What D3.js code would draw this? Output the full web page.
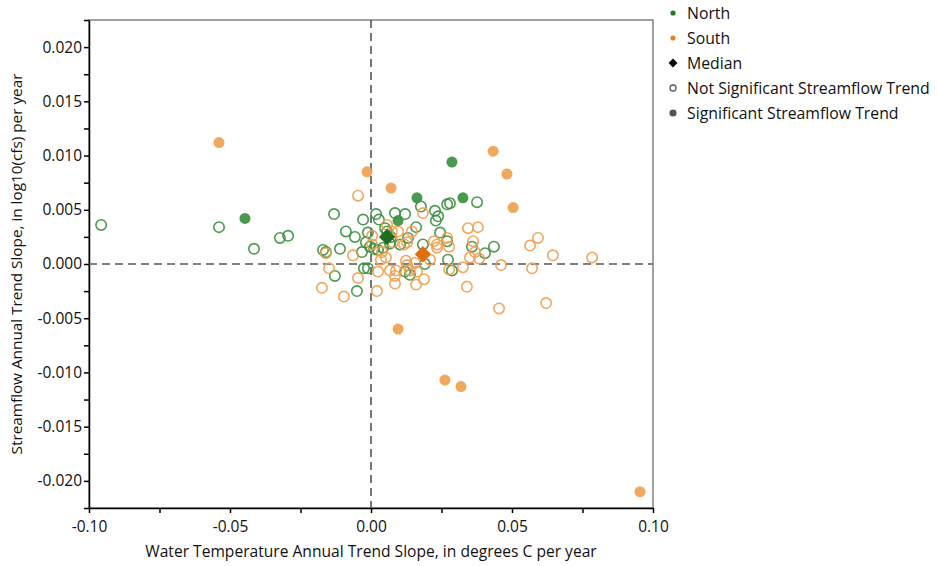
<!DOCTYPE html>
<html>
<head>
<meta charset="utf-8">
<script src="https://cdn.jsdelivr.net/npm/d3@7"></script>
<style>
  body { margin: 0; background: #fff; }
  text { font-family: "Open Sans", "Noto Sans", sans-serif; fill: #111; }
</style>
</head>
<body>
<div id="svg-container"></div>
<script>
// [x, y] pairs: water temp slope (deg C / yr), streamflow slope (log10 cfs / yr)
let northOpen = [
  [-0.0957, 0.0036], [-0.0539, 0.0034], [-0.0415, 0.0014], [-0.0323, 0.0024], [-0.0294, 0.0026],
  [-0.0170, 0.0013], [-0.0160, 0.0011], [-0.0131, 0.0046], [-0.0110, 0.0014], [-0.0128, -0.0011],
  [-0.0089, 0.0030], [-0.0057, 0.0025], [-0.0050, -0.0025], [-0.0032, 0.0011], [-0.0028, 0.0041],
  [-0.0025, -0.0004], [-0.0011, -0.0004], [-0.0018, 0.0020], [-0.0011, 0.0029], [0.0011, 0.0014],
  [0.0018, 0.0046], [0.0028, 0.0041], [0.0025, 0.0013], [0.0043, 0.0015], [0.0050, 0.0033],
  [0.0067, 0.0019], [0.0085, 0.0047], [0.0103, 0.0018], [0.0121, 0.0046], [0.0131, 0.0024],
  [0.0160, 0.0034], [0.0177, 0.0053], [0.0227, 0.0049], [0.0238, 0.0044], [0.0230, 0.0040],
  [0.0270, 0.0055], [0.0280, 0.0056], [0.0376, 0.0057], [0.0245, 0.0029], [0.0270, 0.0021],
  [0.0184, 0.0018], [0.0191, 0.0000], [0.0273, 0.0004], [0.0287, -0.0006], [0.0358, 0.0016],
  [0.0404, 0.0010], [0.0436, 0.0016], [0.0121, -0.0007], [0.0138, -0.0010], [0.0057, 0.0030],
  [0.0071, 0.0025], [-0.0004, 0.0016]
];
let northSig = [
  [-0.0447, 0.0042], [0.0287, 0.0094], [0.0163, 0.0061], [0.0326, 0.0061], [0.0096, 0.0040]
];
let southOpen = [
  [-0.0046, 0.0063], [-0.0160, 0.0010], [-0.0149, -0.0004], [-0.0174, -0.0022], [-0.0096, -0.0030],
  [-0.0064, 0.0008], [-0.0046, -0.0013], [0.0004, 0.0018], [0.0004, 0.0026], [0.0021, -0.0025],
  [0.0025, -0.0007], [0.0035, 0.0004], [0.0053, 0.0006], [0.0057, 0.0036], [0.0074, 0.0030],
  [0.0096, 0.0030], [0.0067, -0.0006], [0.0089, -0.0006], [0.0085, -0.0011], [0.0085, -0.0018],
  [0.0124, 0.0003], [0.0128, -0.0001], [0.0128, 0.0020], [0.0145, 0.0030], [0.0138, -0.0006],
  [0.0163, -0.0007], [0.0160, -0.0019], [0.0188, -0.0014], [0.0209, 0.0004], [0.0184, 0.0047],
  [0.0223, 0.0021], [0.0234, 0.0018], [0.0234, 0.0015], [0.0270, 0.0024], [0.0277, 0.0016],
  [0.0277, -0.0005], [0.0326, -0.0003], [0.0340, -0.0021], [0.0344, 0.0033], [0.0379, 0.0034],
  [0.0362, 0.0021], [0.0369, 0.0011], [0.0351, 0.0006], [0.0383, 0.0005], [0.0461, -0.0001],
  [0.0454, -0.0041], [0.0564, 0.0017], [0.0592, 0.0024], [0.0645, 0.0008], [0.0784, 0.0006],
  [0.0571, -0.0004], [0.0621, -0.0036], [0.0156, 0.0001], [0.0039, 0.0011], [0.0078, 0.0020],
  [0.0117, 0.0018]
];
let southSig = [
  [-0.0539, 0.0112], [-0.0014, 0.0085], [0.0071, 0.0070], [0.0433, 0.0104], [0.0482, 0.0083],
  [0.0504, 0.0052], [0.0096, -0.0060], [0.0262, -0.0107], [0.0319, -0.0113], [0.0954, -0.0210]
];
let medians = [
  { region: 'North', x: 0.0057, y: 0.0025 },
  { region: 'South', x: 0.0184, y: 0.0009 }
];
let xTicks = [-0.10, -0.05, 0.00, 0.05, 0.10];
let xMinor = [-0.075, -0.025, 0.025, 0.075];
let yTicks = [-0.020, -0.015, -0.010, -0.005, 0.000, 0.005, 0.010, 0.015, 0.020];
let yMinor = [-0.0175, -0.0125, -0.0075, -0.0025, 0.0025, 0.0075, 0.0125, 0.0175, 0.0225, -0.0225];
let legendItems = ['North', 'South', 'Median', 'Not Significant Streamflow Trend', 'Significant Streamflow Trend'];

let w = 938, h = 566;
let plot = { left: 89, right: 653, top: 20, bottom: 508 };
let green = '#3a913f';
let orange = '#f0a04e';
let colors = { North: green, South: orange };
let medianColors = { North: '#1f6e1f', South: '#e36f0a' };

let svg = d3.select('#svg-container').
append('svg').
attr('width', w).
attr('height', h);

let x = d3.scaleLinear().domain([-0.1, 0.1]).range([plot.left, plot.right]);
let y = d3.scaleLinear().domain([-0.0225, 0.0225]).range([plot.bottom, plot.top]);

// frame
svg.append('rect').
attr('x', plot.left).attr('y', plot.top).
attr('width', plot.right - plot.left).attr('height', plot.bottom - plot.top).
attr('fill', 'none').attr('stroke', '#444').attr('stroke-width', 1);

// axes
let fmtX = d => d.toFixed(2);
let fmtY = d => d.toFixed(3);

let xAxis = svg.append('g').
attr('transform', 'translate(0,' + plot.bottom + ')').
call(d3.axisBottom(x).tickValues(xTicks).tickFormat(fmtX).tickSize(5).tickPadding(4).tickSizeOuter(0));
svg.append('g').
attr('transform', 'translate(0,' + plot.bottom + ')').
call(d3.axisBottom(x).tickValues(xMinor).tickFormat('').tickSize(5).tickSizeOuter(0)).
select('.domain').remove();

let yAxis = svg.append('g').
attr('transform', 'translate(' + plot.left + ',0)').
call(d3.axisLeft(y).tickValues(yTicks).tickFormat(fmtY).tickSize(5).tickPadding(2).tickSizeOuter(0));
svg.append('g').
attr('transform', 'translate(' + plot.left + ',0)').
call(d3.axisLeft(y).tickValues(yMinor).tickFormat('').tickSize(5).tickSizeOuter(0)).
select('.domain').remove();

svg.selectAll('.domain').attr('stroke', '#000').attr('stroke-width', 1.5);
svg.selectAll('.tick line').attr('stroke', '#000').attr('stroke-width', 1.5);
svg.selectAll('.tick text').
style('font-family', '"Open Sans", "Noto Sans", sans-serif').
style('font-size', '15.5px').
attr('fill', '#111');
xAxis.selectAll('.tick text').attr('dy', '0.95em');

// zero reference lines
svg.append('line').
attr('x1', x(0)).attr('x2', x(0)).attr('y1', plot.top).attr('y2', plot.bottom).
attr('stroke', '#555').attr('stroke-width', 1.6).attr('stroke-dasharray', '8,5');
svg.append('line').
attr('x1', plot.left).attr('x2', plot.right).attr('y1', y(0)).attr('y2', y(0)).
attr('stroke', '#555').attr('stroke-width', 1.6).attr('stroke-dasharray', '8,5');

// points
let groups = [
  { data: northOpen, region: 'North', sig: false },
  { data: southOpen, region: 'South', sig: false },
  { data: northSig, region: 'North', sig: true },
  { data: southSig, region: 'South', sig: true }
];

groups.forEach(g => {
  svg.append('g').
  selectAll('circle').
  data(g.data).
  join('circle').
  attr('cx', d => x(d[0])).
  attr('cy', d => y(d[1])).
  attr('r', g.sig ? 5.5 : 5.2).
  attr('fill', g.sig ? colors[g.region] : 'none').
  attr('stroke', g.sig ? 'none' : colors[g.region]).
  attr('stroke-width', 1.6).
  attr('opacity', 0.92);
});

// medians
svg.append('g').
selectAll('path').
data(medians).
join('path').
attr('d', d3.symbol().type(d3.symbolDiamond2).size(170)).
attr('transform', d => 'translate(' + x(d.x) + ',' + y(d.y) + ')').
attr('fill', d => medianColors[d.region]);

// axis titles
svg.append('text').
attr('x', x(0)).
attr('y', 557).
attr('text-anchor', 'middle').
style('font-size', '15.6px').
text('Water Temperature Annual Trend Slope, in degrees C per year');

svg.append('text').
attr('transform', 'translate(22,' + y(0) + ') rotate(-90)').
attr('text-anchor', 'middle').
style('font-size', '15.3px').
text('Streamflow Annual Trend Slope, in log10(cfs) per year');

// legend
let legend = svg.append('g').attr('transform', 'translate(673,13)');
let rows = legend.selectAll('g').
data(legendItems).
join('g').
attr('transform', (d, i) => 'translate(0,' + i * 25 + ')');

rows.append('text').
attr('x', 14).
attr('y', 0).
attr('dy', '0.35em').
style('font-size', '15.8px').
text(d => d);

rows.each(function (d, i) {
  let r = d3.select(this);
  if (i === 0 || i === 1) {
    r.append('circle').attr('r', 2.6).attr('fill', i === 0 ? '#1e7d1e' : '#ee7f1a');
  } else if (i === 2) {
    r.append('path').attr('d', d3.symbol().type(d3.symbolDiamond2).size(50)).attr('fill', '#000');
  } else if (i === 3) {
    r.append('circle').attr('r', 3).attr('fill', 'none').attr('stroke', '#555').attr('stroke-width', 1.3);
  } else {
    r.append('circle').attr('r', 3.6).attr('fill', '#555');
  }
});
</script>
</body>
</html>
